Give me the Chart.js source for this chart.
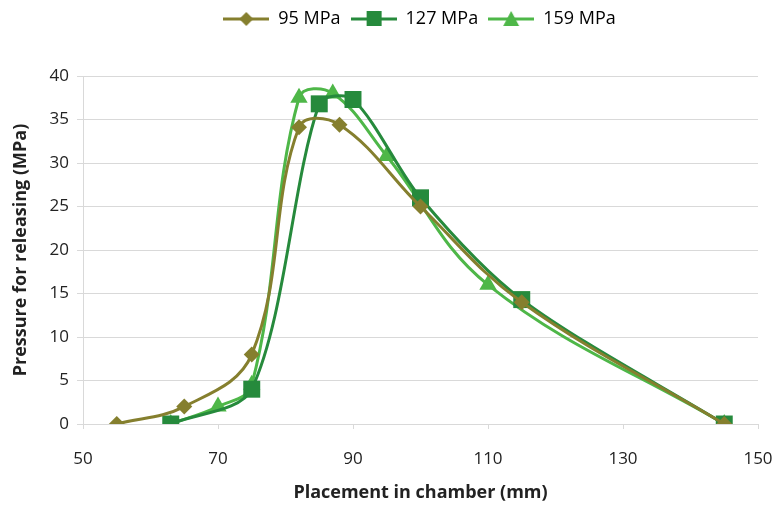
<!DOCTYPE html>
<html>
<head>
<meta charset="utf-8">
<script src="https://cdn.jsdelivr.net/npm/chart.js@4"></script>
<style>
  html, body { margin: 0; padding: 0; background: #fff; }
  #wrap { width: 775px; height: 508px; }
</style>
</head>
<body>
<div id="wrap"><canvas id="myChart" width="775" height="508"></canvas></div>
<script>
// values
var seriesNames = ['95 MPa', '127 MPa', '159 MPa'];
var x95  = [55, 65, 75, 82, 88, 100, 115, 145];
var y95  = [0, 2, 8, 34.1, 34.4, 25, 14, 0];
var x127 = [63, 75, 85, 90, 100, 115, 145];
var y127 = [0, 4, 36.8, 37.3, 26, 14.3, 0];
var x159 = [63, 70, 75, 82, 87, 95, 110, 145];
var y159 = [0, 2, 4.5, 37.5, 38, 30.8, 16, 0];
var xTicks = [50, 70, 90, 110, 130, 150];
var yTicks = [0, 5, 10, 15, 20, 25, 30, 35, 40];

var colors = ['#857f2e', '#268a3c', '#4eb748'];
var markers = ['rectRot', 'rect', 'triangle'];
var markerSize = [8, 12, 10];
var smooth = [0.38, 0.3, 0.38];

function pts(xs, ys) {
  return xs.map(function (x, i) { return { x: x, y: ys[i] }; });
}

// little line + marker images for the legend
function legendIcon(color, style) {
  var c = document.createElement('canvas');
  c.width = 46; c.height = 18;
  var g = c.getContext('2d');
  g.strokeStyle = color; g.lineWidth = 3;
  g.beginPath(); g.moveTo(0, 9); g.lineTo(46, 9); g.stroke();
  g.fillStyle = color;
  g.beginPath();
  if (style == 'rectRot') {
    g.moveTo(23, 2); g.lineTo(30, 9); g.lineTo(23, 16); g.lineTo(16, 9);
  } else if (style == 'rect') {
    g.rect(16, 1, 15, 15);
  } else {
    g.moveTo(23, 1); g.lineTo(31, 16); g.lineTo(15, 16);
  }
  g.closePath(); g.fill();
  return c;
}

// push the plot down below the legend, and center legend over the plot
var legendGap = {
  id: 'legendGap',
  beforeInit: function (chart) {
    var lg = chart.legend;
    var fit = lg.fit;
    lg.fit = function () {
      fit.bind(lg)();
      this.height += 38;
    };
    var draw = lg.draw;
    lg.draw = function () {
      var c = chart.ctx;
      c.save();
      c.translate(32, 0);
      draw.bind(lg)();
      c.restore();
    };
  }
};

var sets = [pts(x95, y95), pts(x127, y127), pts(x159, y159)];

var ctx = document.getElementById('myChart');
var myChart = new Chart(ctx, {
  type: 'line',
  plugins: [legendGap],
  data: {
    datasets: sets.map(function (d, i) {
      return {
        label: seriesNames[i],
        data: d,
        borderColor: colors[i],
        backgroundColor: colors[i],
        borderWidth: 3,
        tension: smooth[i],
        pointStyle: markers[i],
        pointRadius: markerSize[i],
        pointHoverRadius: markerSize[i],
        pointBorderWidth: 0,
        legendIcon: legendIcon(colors[i], markers[i])
      };
    })
  },
  options: {
    responsive: false,
    animation: false,
    layout: { padding: { top: 0, right: 0, bottom: 0, left: 0 } },
    plugins: {
      tooltip: { enabled: false },
      legend: {
        position: 'top',
        labels: {
          usePointStyle: true,
          pointStyleWidth: 46,
          boxHeight: 18,
          padding: 10,
          color: '#222',
          font: { family: 'Open Sans', size: 18 },
          generateLabels: function (chart) {
            return chart.data.datasets.map(function (ds, i) {
              return {
                text: ds.label,
                pointStyle: ds.legendIcon,
                fillStyle: ds.borderColor,
                strokeStyle: ds.borderColor,
                lineWidth: 0,
                datasetIndex: i
              };
            });
          }
        }
      }
    },
    scales: {
      x: {
        type: 'linear',
        min: 50, max: 150,
        afterBuildTicks: function (s) { s.ticks = xTicks.map(function (v) { return { value: v }; }); },
        afterFit: function (s) { s.height = 84; s.paddingRight = 17; s.paddingLeft = 0; },
        grid: { drawOnChartArea: false, drawTicks: true, tickLength: 5, color: '#d9d9d9' },
        border: { color: '#d9d9d9' },
        ticks: { color: '#222', padding: 20, font: { family: 'Open Sans', size: 17 } },
        title: {
          display: true,
          text: 'Placement in chamber (mm)',
          color: '#222',
          padding: { top: 6 },
          font: { family: 'Open Sans', size: 18, weight: 'bold' }
        }
      },
      y: {
        min: 0, max: 40,
        afterBuildTicks: function (s) { s.ticks = yTicks.map(function (v) { return { value: v }; }); },
        afterFit: function (s) { s.width = 83; },
        grid: { color: '#d9d9d9', tickLength: 6 },
        border: { color: '#d9d9d9' },
        ticks: { color: '#222', padding: 8, font: { family: 'Open Sans', size: 17 } },
        title: {
          display: true,
          text: 'Pressure for releasing (MPa)',
          color: '#222',
          padding: { top: 10, bottom: 0 },
          font: { family: 'Open Sans', size: 18, weight: 'bold' }
        }
      }
    }
  }
});
</script>
</body>
</html>
